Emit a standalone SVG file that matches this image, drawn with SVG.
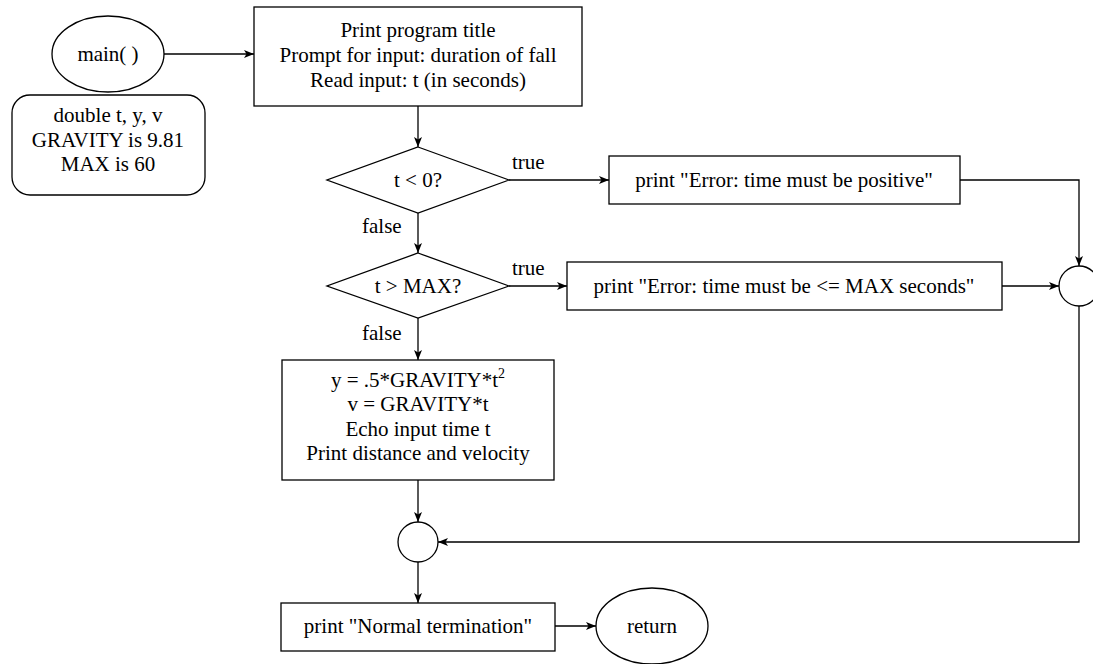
<svg xmlns="http://www.w3.org/2000/svg" width="1093" height="664" viewBox="0 0 1093 664">
<defs>
<style>
.s{fill:#fff;stroke:#000;stroke-width:1.3}
.t{font-family:"Liberation Serif","Times New Roman",serif;font-size:21px;fill:#000;text-anchor:middle}
.l{font-family:"Liberation Serif","Times New Roman",serif;font-size:21px;fill:#000}
.c{fill:none;stroke:#000;stroke-width:1.3}
</style>
<marker id="a" viewBox="0 0 10 8" refX="10" refY="4" markerWidth="10" markerHeight="8" markerUnits="userSpaceOnUse" orient="auto">
<path d="M0,0 L10,4 L0,8 L2.5,4 Z" fill="#000"/>
</marker>
</defs>
<rect width="1093" height="664" fill="#fff"/>
<g id="connectors">
<path class="c" d="M164,54 H254" marker-end="url(#a)"/>
<path class="c" d="M418,106 V147" marker-end="url(#a)"/>
<path class="c" d="M509,180 H609" marker-end="url(#a)"/>
<path class="c" d="M418,213 V253" marker-end="url(#a)"/>
<path class="c" d="M509,286 H567" marker-end="url(#a)"/>
<path class="c" d="M418,318 V360" marker-end="url(#a)"/>
<path class="c" d="M960,180 H1079 V266" marker-end="url(#a)"/>
<path class="c" d="M1002,286 H1059" marker-end="url(#a)"/>
<path class="c" d="M1079,306 V542 H438" marker-end="url(#a)"/>
<path class="c" d="M418,480 V522" marker-end="url(#a)"/>
<path class="c" d="M418,562 V603" marker-end="url(#a)"/>
<path class="c" d="M555,626 H596" marker-end="url(#a)"/>
<text class="l" x="512" y="169">true</text>
<text class="l" x="362" y="233">false</text>
<text class="l" x="512" y="275">true</text>
<text class="l" x="362" y="340">false</text>
</g>
<g id="main">
<ellipse class="s" cx="108" cy="54" rx="56" ry="38"/>
<text class="t" x="108" y="61">main( )</text>
</g>
<g id="decl">
<rect class="s" x="12" y="95" width="193" height="100" rx="18"/>
<text class="t" x="108" y="122">double t, y, v</text>
<text class="t" x="108" y="147">GRAVITY is 9.81</text>
<text class="t" x="108" y="171">MAX is 60</text>
</g>
<g id="input">
<rect class="s" x="254" y="7" width="328" height="99"/>
<text class="t" x="418" y="37">Print program title</text>
<text class="t" x="418" y="62">Prompt for input: duration of fall</text>
<text class="t" x="418" y="87">Read input: t (in seconds)</text>
</g>
<g id="dec1">
<polygon class="s" points="418,147 509,180 418,213 327,180"/>
<text class="t" x="418" y="187">t &lt; 0?</text>
</g>
<g id="err1">
<rect class="s" x="609" y="156" width="351" height="48"/>
<text class="t" x="784" y="187">print "Error: time must be positive"</text>
</g>
<g id="dec2">
<polygon class="s" points="418,253 509,286 418,318 327,286"/>
<text class="t" x="418" y="293">t &gt; MAX?</text>
</g>
<g id="err2">
<rect class="s" x="567" y="262" width="435" height="48"/>
<text class="t" x="784" y="293">print "Error: time must be &lt;= MAX seconds"</text>
</g>
<g id="join1">
<circle class="s" cx="1079" cy="286" r="20"/>
</g>
<g id="calc">
<rect class="s" x="282" y="360" width="272" height="120"/>
<text class="t" x="418" y="387">y = .5*GRAVITY*t<tspan font-size="14" dy="-9">2</tspan></text>
<text class="t" x="418" y="411">v = GRAVITY*t</text>
<text class="t" x="418" y="436">Echo input time t</text>
<text class="t" x="418" y="460">Print distance and velocity</text>
</g>
<g id="join2">
<circle class="s" cx="418" cy="542" r="20"/>
</g>
<g id="normal">
<rect class="s" x="281" y="603" width="274" height="48"/>
<text class="t" x="418" y="633">print "Normal termination"</text>
</g>
<g id="return">
<ellipse class="s" cx="652" cy="626" rx="56" ry="38"/>
<text class="t" x="652" y="633">return</text>
</g>
</svg>
